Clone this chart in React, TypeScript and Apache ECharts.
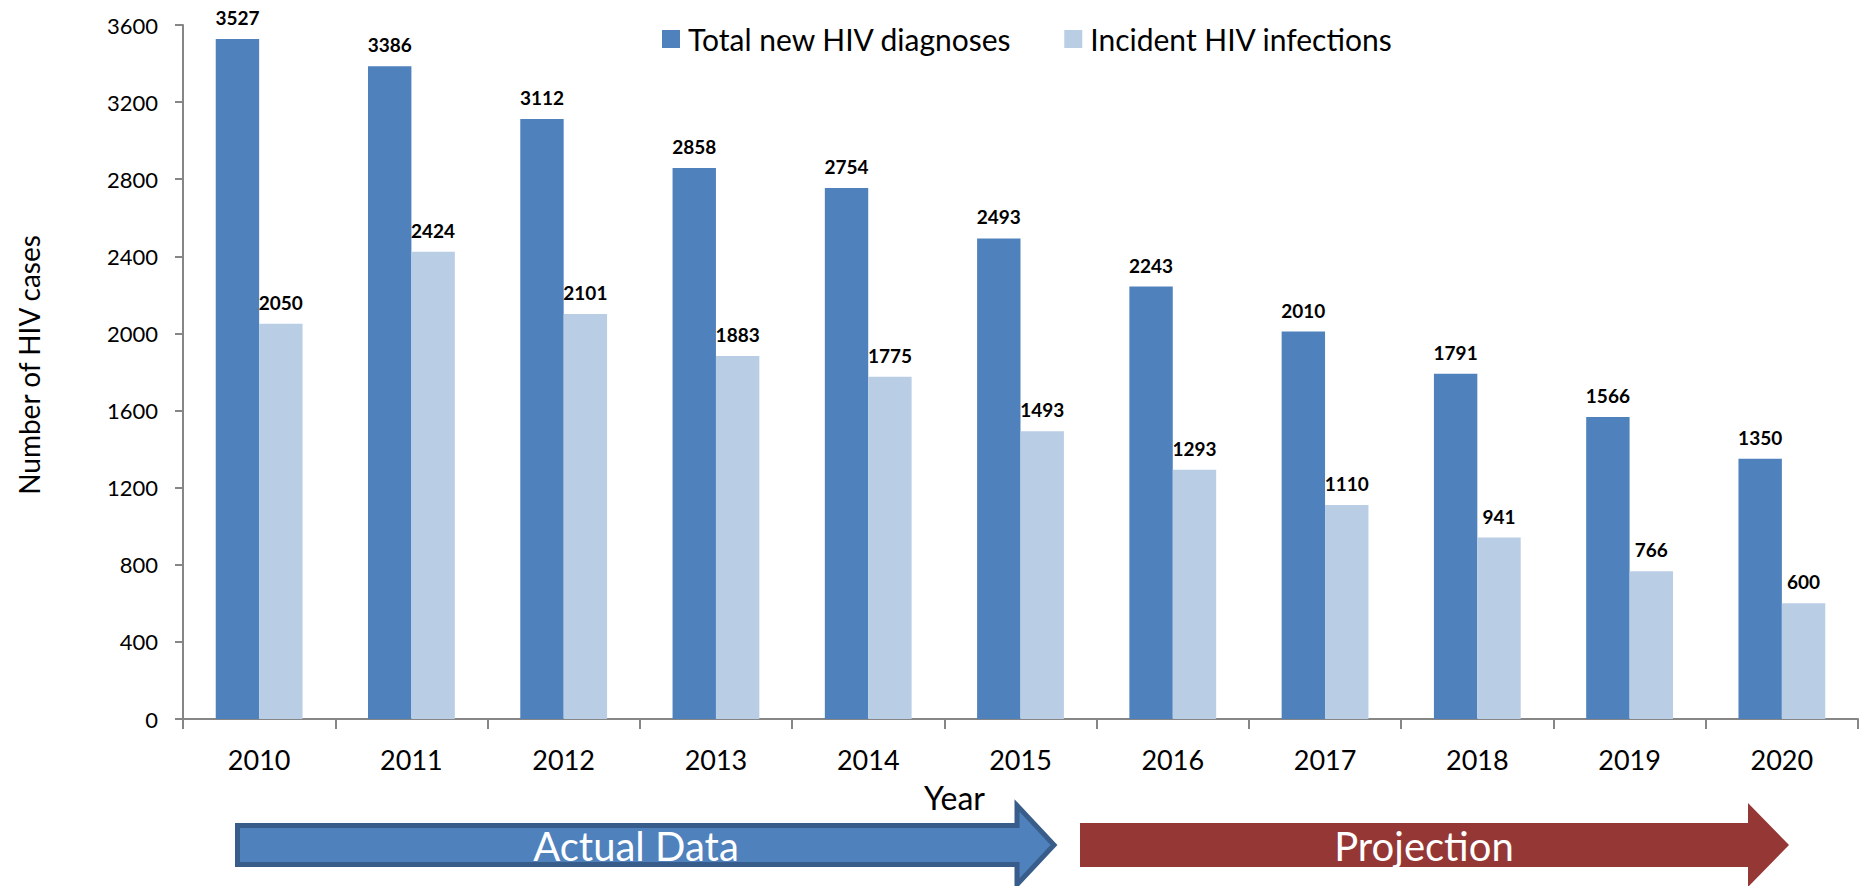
import React, { useEffect, useRef } from "react";
import * as echarts from "echarts";

const years = ["2010", "2011", "2012", "2013", "2014", "2015", "2016", "2017", "2018", "2019", "2020"];
const totalNewDiagnoses = [3527, 3386, 3112, 2858, 2754, 2493, 2243, 2010, 1791, 1566, 1350];
const incidentInfections = [2050, 2424, 2101, 1883, 1775, 1493, 1293, 1110, 941, 766, 600];
const seriesNames = ["Total new HIV diagnoses", "Incident HIV infections"];
const yMin = 0;
const yMax = 3600;
const yInterval = 400;

const FONT = "Lato, 'Open Sans', sans-serif";

export default function App() {
  const ref = useRef<HTMLDivElement>(null);
  useEffect(() => {
    if (!ref.current) return;
    const chart = echarts.init(ref.current, undefined, { renderer: "svg" });
    const labelStyle = {
      show: true,
      position: "top" as const,
      distance: 12,
      fontFamily: FONT,
      fontSize: 19,
      fontWeight: "bold" as const,
      color: "#000",
    };
    chart.setOption({
      animation: false,
      textStyle: { fontFamily: FONT },
      grid: { left: 183, right: 4, top: 25, bottom: 167, containLabel: false },
      legend: {
        left: 657,
        top: 19,
        icon: "rect",
        itemWidth: 18,
        itemHeight: 18,
        itemGap: 52,
        textStyle: { fontFamily: FONT, fontSize: 30, color: "#000", padding: [0, 0, 0, 3] },
        data: seriesNames,
      },
      xAxis: {
        type: "category",
        data: years,
        boundaryGap: true,
        axisLine: { show: true, lineStyle: { color: "#868686", width: 2 } },
        axisTick: { show: true, length: 10, lineStyle: { color: "#868686", width: 2 } },
        axisLabel: { fontFamily: FONT, fontSize: 27, color: "#000", margin: 27 },
        name: "Year",
        nameLocation: "middle",
        nameGap: 62,
        nameTextStyle: { fontFamily: FONT, fontSize: 32, color: "#000", padding: [0, 132, 0, 0] },
      },
      yAxis: {
        type: "value",
        min: yMin,
        max: yMax,
        interval: yInterval,
        axisLine: { show: true, lineStyle: { color: "#868686", width: 2 } },
        axisTick: { show: true, length: 8, lineStyle: { color: "#868686", width: 2 } },
        splitLine: { show: false },
        axisLabel: {
          fontFamily: FONT,
          fontSize: 22,
          color: "#000",
          margin: 25,
          formatter: (v: number) => String(v),
        },
        name: "Number of HIV cases",
        nameLocation: "middle",
        nameRotate: 90,
        nameGap: 140,
        nameTextStyle: { fontFamily: FONT, fontSize: 28, color: "#000", padding: [0, 0, 0, 14] },
      },
      series: [
        {
          name: seriesNames[0],
          type: "bar",
          data: totalNewDiagnoses,
          barGap: "0%",
          barCategoryGap: "43%",
          itemStyle: { color: "#4F81BD" },
          label: labelStyle,
        },
        {
          name: seriesNames[1],
          type: "bar",
          data: incidentInfections,
          barGap: "0%",
          barCategoryGap: "43%",
          itemStyle: { color: "#B9CDE5" },
          label: labelStyle,
        },
      ],
      graphic: [
        {
          type: "polygon",
          shape: {
            points: [
              [237.5, 825.5],
              [1017, 825.5],
              [1017, 805.5],
              [1054, 845],
              [1017, 884.5],
              [1017, 864.5],
              [237.5, 864.5],
            ],
          },
          style: { fill: "#4F81BD", stroke: "#385D8A", lineWidth: 5 },
        },
        {
          type: "text",
          x: 636,
          y: 846,
          style: {
            text: "Actual Data",
            fill: "#fff",
            font: `40px ${FONT}`,
            align: "center",
            verticalAlign: "middle",
          },
        },
        {
          type: "polygon",
          shape: {
            points: [
              [1080, 823],
              [1748, 823],
              [1748, 803],
              [1789, 845],
              [1748, 887],
              [1748, 867],
              [1080, 867],
            ],
          },
          style: { fill: "#953735" },
        },
        {
          type: "text",
          x: 1424,
          y: 846,
          style: {
            text: "Projection",
            fill: "#fff",
            font: `40px ${FONT}`,
            align: "center",
            verticalAlign: "middle",
          },
        },
      ],
    });
    return () => chart.dispose();
  }, []);
  return (
    <div
      ref={ref}
      style={{ position: "fixed", left: 0, top: 0, width: 1862, height: 886, background: "#fff" }}
    />
  );
}
